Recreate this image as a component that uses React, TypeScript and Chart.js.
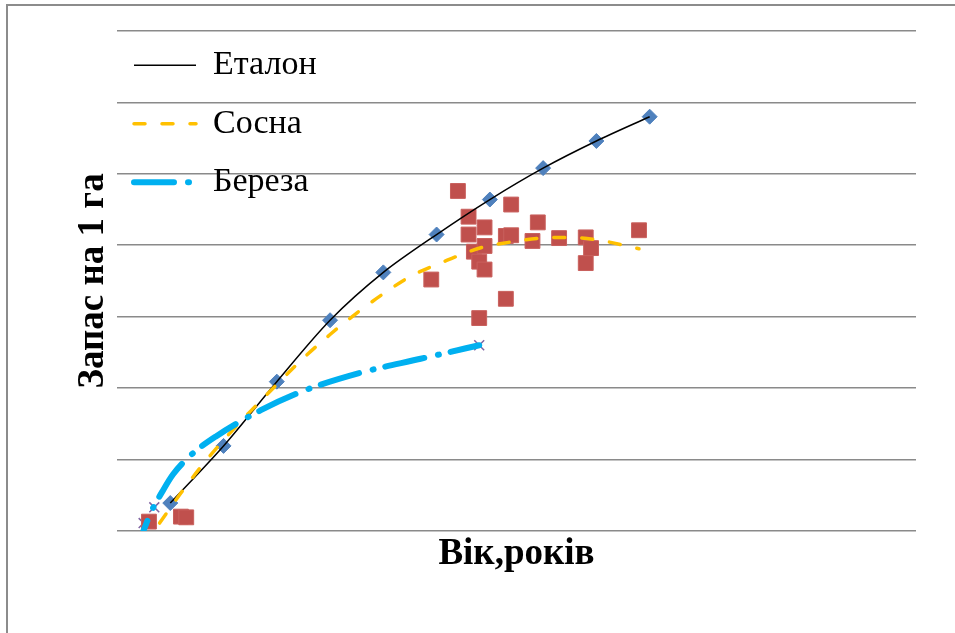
import React, { useEffect, useRef } from "react";
import { Chart, registerables } from "chart.js";

Chart.register(...registerables);

// Еталон (reference stand) – age, years / stock per 1 ha
const etalonAge = [10, 20, 30, 40, 50, 60, 70, 80, 90, 100];
const etalonStock = [39, 119, 209, 295, 362, 415, 464, 508, 546, 580];

// Сосна – observed plots
const pineAge = [6, 12, 13, 59, 64, 66, 66, 67, 68, 69, 69, 69, 68, 73, 73, 74, 74, 78, 79, 83, 88, 89, 88, 98];
const pineStock = [13, 20, 19, 352, 476, 440, 415, 391, 377, 366, 425, 399, 298, 325, 413, 414, 457, 406, 432, 410, 411, 396, 375, 421];

// Береза – observed plots
const birchAge = [5, 7, 68];
const birchStock = [11, 33, 260];

// Trend lines
const pineTrendAge = [8, 12, 16, 20, 25, 30, 35, 40, 45, 50, 55, 62, 68.5, 73.5, 79.5, 85, 90.5, 98];
const pineTrendStock = [11, 53, 92, 127, 167, 205, 242, 275, 305, 332, 356, 379, 397, 404, 410, 411, 407, 395];

const birchTrendAge = [5, 6.5, 8.5, 10.5, 14, 18.5, 27, 35, 46, 57, 68];
const birchTrendStock = [1, 28, 55, 79, 107, 132, 169, 196, 222, 241, 260];

// Axis settings
const xMin = 0;
const xMax = 150;
const yMin = 0;
const yMax = 700;
const yStep = 100;

const seriesNames = ["Еталон", "Сосна", "Береза"];
const xTitle = "Вік,років";
const yTitle = "Запас на 1 га";

const pts = (xs: number[], ys: number[]) => xs.map((x, i) => ({ x, y: ys[i] }));

const SERIF = "'Liberation Serif', 'Times New Roman', serif";

export default function App() {
  const ref = useRef<HTMLCanvasElement | null>(null);

  useEffect(() => {
    if (!ref.current) return;
    const legendSet = new Set([0, 1, 2]);
    const chart = new Chart(ref.current, {
      type: "scatter",
      data: {
        datasets: [
          {
            label: seriesNames[0],
            data: pts(etalonAge, etalonStock),
            showLine: true,
            borderColor: "#000000",
            borderWidth: 1.5,
            pointRadius: 0,
            tension: 0.3,
            order: 3,
          },
          {
            label: seriesNames[1],
            data: pts(pineTrendAge, pineTrendStock),
            showLine: true,
            borderColor: "#FFC000",
            borderWidth: 3.5,
            borderDash: [11, 17],
            borderCapStyle: "round",
            pointRadius: 0,
            cubicInterpolationMode: "monotone",
            order: 2,
          },
          {
            label: seriesNames[2],
            data: pts(birchTrendAge, birchTrendStock),
            showLine: true,
            borderColor: "#00B0F0",
            borderWidth: 6,
            borderDash: [40, 14, 1, 12],
            borderDashOffset: 30,
            borderCapStyle: "round",
            pointRadius: 0,
            cubicInterpolationMode: "monotone",
            order: 1,
          },
          {
            label: "etalon-points",
            data: pts(etalonAge, etalonStock),
            showLine: false,
            pointStyle: "rectRot",
            pointRadius: 7.5,
            backgroundColor: "#4F81BD",
            borderColor: "#4F81BD",
            borderWidth: 1,
            order: 10,
          },
          {
            label: "pine-points",
            data: pts(pineAge, pineStock),
            showLine: false,
            pointStyle: "rect",
            pointRadius: 10.5,
            backgroundColor: "#C0504D",
            borderColor: "#C9605D",
            borderWidth: 1,
            order: 10,
          },
          {
            label: "birch-points",
            data: pts(birchAge, birchStock),
            showLine: false,
            pointStyle: "crossRot",
            pointRadius: 7,
            backgroundColor: "#8064A2",
            borderColor: "#8064A2",
            borderWidth: 1.5,
            order: 10,
          },
        ],
      },
      options: {
        responsive: false,
        animation: false,
        layout: { padding: { left: 68, right: 39, top: 31, bottom: 56.3 } },
        plugins: {
          tooltip: { enabled: false },
          legend: {
            display: true,
            position: "chartArea",
            align: "start",
            title: {
              display: true,
              text: "",
              font: { size: 10, lineHeight: 1 },
              padding: { top: 21.3, bottom: 0 },
            },
            labels: {
              usePointStyle: true,
              pointStyle: "line",
              pointStyleWidth: 62,
              padding: 17,
              color: "#000000",
              font: { family: SERIF, size: 34, lineHeight: 41.5 / 34 },
              sort: (a: any, b: any) => a.datasetIndex - b.datasetIndex,
              generateLabels: (c: any) => {
                const base = Chart.defaults.plugins.legend.labels.generateLabels(c);
                return base
                  .filter((l: any) => legendSet.has(l.datasetIndex))
                  .map((l: any) => {
                    const ds: any = c.data.datasets[l.datasetIndex];
                    return {
                      ...l,
                      text: [ds.label],
                      strokeStyle: ds.borderColor,
                      fillStyle: ds.borderColor,
                      lineWidth: ds.borderWidth,
                      lineDash: ds.borderDash || [],
                      lineDashOffset: 0,
                      lineCap: ds.borderCapStyle || "butt",
                      pointStyle: "line",
                    };
                  });
              },
            },
          },
        },
        scales: {
          x: {
            type: "linear",
            min: xMin,
            max: xMax,
            ticks: { display: false },
            grid: { display: false, drawTicks: false },
            border: { display: false },
            title: {
              display: true,
              text: xTitle,
              color: "#000000",
              font: { family: SERIF, size: 37, weight: "bold", lineHeight: 1.2 },
              padding: { top: 1.4, bottom: 0 },
            },
          },
          y: {
            type: "linear",
            min: yMin,
            max: yMax,
            ticks: { display: false, stepSize: yStep },
            grid: { color: "#8a8a8a", lineWidth: 1.5, drawTicks: false },
            border: { display: false },
            title: {
              display: true,
              text: yTitle,
              color: "#000000",
              font: { family: SERIF, size: 37, weight: "bold", lineHeight: 1.2 },
              padding: { top: 2.8, bottom: 1.8 },
            },
          },
        },
      },
    } as any);
    return () => chart.destroy();
  }, []);

  return (
    <div
      style={{
        position: "fixed",
        left: 0,
        top: 0,
        width: 955,
        height: 633,
        overflow: "hidden",
        background: "#ffffff",
      }}
    >
      <div
        style={{
          position: "absolute",
          left: 6,
          top: 4,
          width: 1200,
          height: 900,
          border: "2px solid #8c8c8c",
        }}
      />
      <canvas
        ref={ref}
        width={955}
        height={633}
        style={{ position: "absolute", left: 0, top: 0, display: "block" }}
      />
    </div>
  );
}
